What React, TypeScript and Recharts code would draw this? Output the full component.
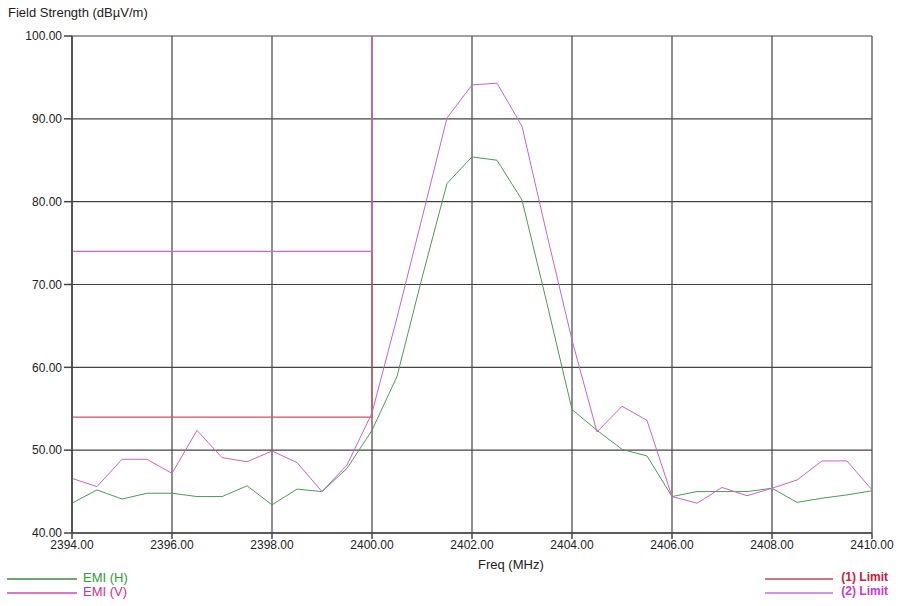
import React from "react";
import { LineChart, Line, XAxis, YAxis, CartesianGrid } from "recharts";

const freq = [
  2394, 2394.5, 2395, 2395.5, 2396, 2396.5, 2397, 2397.5, 2398, 2398.5, 2399,
  2399.5, 2400, 2400.5, 2401, 2401.5, 2402, 2402.5, 2403, 2403.5, 2404, 2404.5,
  2405, 2405.5, 2406, 2406.5, 2407, 2407.5, 2408, 2408.5, 2409, 2409.5, 2410,
];
const emiH = [
  43.6, 45.2, 44.1, 44.8, 44.8, 44.4, 44.4, 45.7, 43.4, 45.3, 45.0, 47.8, 52.4,
  58.9, 70.8, 82.2, 85.4, 85.0, 80.2, 67.7, 54.9, 52.4, 50.1, 49.3, 44.4, 45.0,
  45.0, 45.0, 45.4, 43.7, 44.2, 44.6, 45.1,
];
const emiV = [
  46.6, 45.6, 48.9, 48.9, 47.2, 52.4, 49.1, 48.6, 49.9, 48.5, 45.0, 48.2, 54.5,
  66.0, 78.0, 90.1, 94.1, 94.3, 89.1, 76.0, 63.3, 52.2, 55.3, 53.6, 44.4, 43.6,
  45.5, 44.5, 45.4, 46.4, 48.7, 48.7, 45.2,
];
const limit1Freq = [2394, 2400, 2400];
const limit1Val = [54, 54, 100];
const limit2Freq = [2394, 2400, 2400];
const limit2Val = [74, 74, 100];
const xTicks = [2394, 2396, 2398, 2400, 2402, 2404, 2406, 2408, 2410];
const yTicks = [40, 50, 60, 70, 80, 90, 100];

const rows = freq.map((f, i) => ({ f, h: emiH[i], v: emiV[i] }));
const limit1 = limit1Freq.map((f, i) => ({ f, l1: limit1Val[i] }));
const limit2 = limit2Freq.map((f, i) => ({ f, l2: limit2Val[i] }));

const FONT = "'Liberation Sans', Arial, sans-serif";
const GRID = "#444444";

export default function App() {
  const tickStyle = { fontSize: 12, fill: "#222", fontFamily: FONT };
  return (
    <div
      style={{
        position: "absolute",
        left: 0,
        top: 0,
        width: 898,
        height: 606,
        background: "#fff",
        fontFamily: FONT,
      }}
    >
      <div
        style={{
          position: "absolute",
          left: 8,
          top: 5,
          fontSize: 13,
          color: "#222",
          whiteSpace: "nowrap",
        }}
      >
        Field Strength (dBµV/m)
      </div>
      <LineChart
        width={898}
        height={606}
        data={rows}
        margin={{ top: 36, right: 26, bottom: 43, left: 0 }}
      >
        <CartesianGrid stroke={GRID} strokeWidth={1.2} />
        <XAxis
          dataKey="f"
          type="number"
          domain={[2394, 2410]}
          ticks={xTicks}
          allowDuplicatedCategory={true}
          tickFormatter={(v: number) => v.toFixed(2)}
          stroke={GRID}
          strokeWidth={1.5}
          tickSize={6}
          tickMargin={1}
          height={30}
          tick={tickStyle}
        />
        <YAxis
          type="number"
          domain={[40, 100]}
          ticks={yTicks}
          tickFormatter={(v: number) => v.toFixed(2)}
          stroke={GRID}
          strokeWidth={1.5}
          tickSize={8}
          tickMargin={2}
          width={72}
          tick={tickStyle}
        />
        <Line
          data={limit1}
          dataKey="l1"
          stroke="#d4505f"
          strokeWidth={1.2}
          dot={false}
          isAnimationActive={false}
        />
        <Line
          data={limit2}
          dataKey="l2"
          stroke="#c966d8"
          strokeWidth={1.2}
          dot={false}
          isAnimationActive={false}
        />
        <Line
          dataKey="h"
          stroke="#4f9a55"
          strokeWidth={1}
          dot={false}
          isAnimationActive={false}
        />
        <Line
          dataKey="v"
          stroke="#cc62c4"
          strokeWidth={1}
          dot={false}
          isAnimationActive={false}
        />
      </LineChart>
      <div
        style={{
          position: "absolute",
          left: 478,
          top: 557,
          fontSize: 13,
          color: "#222",
          whiteSpace: "nowrap",
        }}
      >
        Freq (MHz)
      </div>
      {[
        { y: 578, c: "#6aa86e", t: "EMI (H)", tc: "#2f9a3a" },
        { y: 592, c: "#d878c8", t: "EMI (V)", tc: "#d0308e" },
      ].map((d) => (
        <div key={d.t}>
          <div
            style={{
              position: "absolute",
              left: 7,
              top: d.y,
              width: 70,
              height: 2,
              background: d.c,
            }}
          />
          <div
            style={{
              position: "absolute",
              left: 83,
              top: d.y - 8,
              fontSize: 13,
              color: d.tc,
              whiteSpace: "nowrap",
            }}
          >
            {d.t}
          </div>
        </div>
      ))}
      {[
        { y: 578, c: "#c87880", t: "(1) Limit", tc: "#c4203c" },
        { y: 592, c: "#d890e4", t: "(2) Limit", tc: "#c63ccc" },
      ].map((d) => (
        <div key={d.t}>
          <div
            style={{
              position: "absolute",
              left: 765,
              top: d.y,
              width: 68,
              height: 2,
              background: d.c,
            }}
          />
          <div
            style={{
              position: "absolute",
              right: 10,
              top: d.y - 8,
              fontSize: 12,
              fontWeight: "bold",
              color: d.tc,
              whiteSpace: "nowrap",
            }}
          >
            {d.t}
          </div>
        </div>
      ))}
    </div>
  );
}
